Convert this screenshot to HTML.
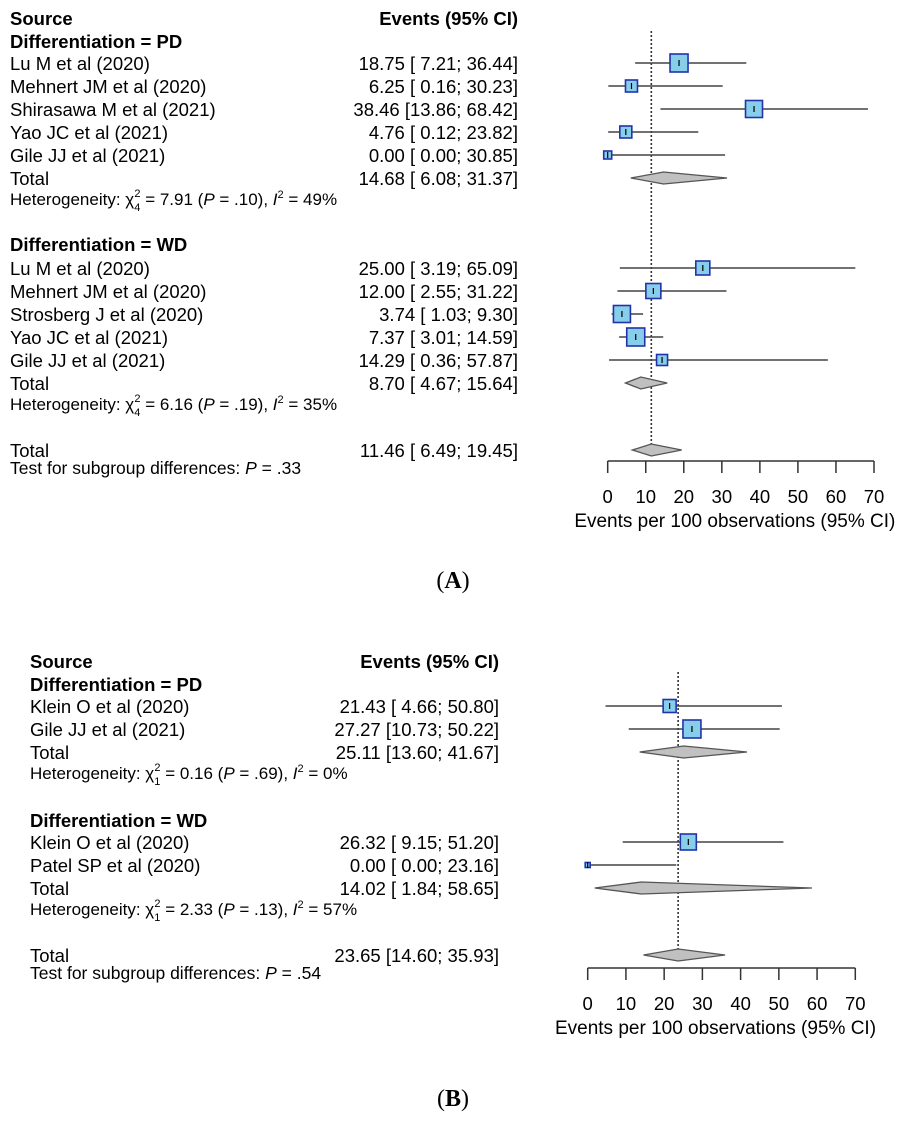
<!DOCTYPE html>
<html><head><meta charset="utf-8"><style>
body{margin:0;background:#fff;}
svg{display:block;font-family:"Liberation Sans",Arial,sans-serif;}
</style></head><body>
<svg id="fig" width="906" height="1123" viewBox="0 0 906 1123" xmlns="http://www.w3.org/2000/svg"></svg>
<script>
// Panel A data
const aLabels=["Lu M et al (2020)","Mehnert JM et al (2020)","Shirasawa M et al  (2021)","Yao JC et al (2021)","Gile JJ et al (2021)","Lu M et al (2020)","Mehnert JM et al (2020)","Strosberg J et al (2020)","Yao JC et al (2021)","Gile JJ et al (2021)"];
const aEst=[18.75,6.25,38.46,4.76,0.00,25.00,12.00,3.74,7.37,14.29];
const aLo=[7.21,0.16,13.86,0.12,0.00,3.19,2.55,1.03,3.01,0.36];
const aHi=[36.44,30.23,68.42,23.82,30.85,65.09,31.22,9.30,14.59,57.87];
const aSize=[18,12,17,12,8,14,15,17,18,11];
const aTotEst=[14.68,8.70,11.46];
const aTotLo=[6.08,4.67,6.49];
const aTotHi=[31.37,15.64,19.45];
// Panel B data
const bLabels=["Klein O et al  (2020)","Gile JJ et al (2021)","Klein O et al  (2020)","Patel SP et al (2020)"];
const bEst=[21.43,27.27,26.32,0.00];
const bLo=[4.66,10.73,9.15,0.00];
const bHi=[50.80,50.22,51.20,23.16];
const bSize=[13,18,16,5];
const bTotEst=[25.11,14.02,23.65];
const bTotLo=[13.60,1.84,14.60];
const bTotHi=[41.67,58.65,35.93];
const ticks=[0,10,20,30,40,50,60,70];

const NS="http://www.w3.org/2000/svg";
const svg=document.getElementById('fig');
const FS=18.5;
function mk(tag,attrs,parent){const e=document.createElementNS(NS,tag);for(const k in attrs)e.setAttribute(k,attrs[k]);(parent||svg).appendChild(e);return e;}
function txt(x,y,s,opts,parent){const t=mk('text',Object.assign({x:x,y:y,'font-size':FS,fill:'#000'},opts||{}),parent);t.innerHTML=s;return t;}
function fmt(v){return v.toFixed(2);}
function ci(e,l,h){const pad=v=>v<10?'&#160;'+fmt(v):fmt(v);return fmt(e)+' ['+pad(l)+'; '+fmt(h)+']';}

function panel(o){
  const g=mk('g',{});
  
  
  const X=v=>o.x0+v*(o.x1-o.x0)/70;
  const s=txt(o.lx,o.hy,'Source',{'font-weight':'bold'},g);
  
  const eh=txt(o.rx,o.hy,'Events (95% CI)',{'font-weight':'bold','text-anchor':'end'},g);
  
  const rl=mk('line',{x1:X(o.totEst[2]),x2:X(o.totEst[2]),y1:o.refTop,y2:o.totY+6,stroke:'#333','stroke-width':1.6,'stroke-dasharray':'2,2'},g);
  
  let idx=0;
  o.groups.forEach((grp,gi)=>{
    const gh=txt(o.lx,grp.hy,'Differentiation = '+grp.name,{'font-weight':'bold'},g);
    
    for(let k=0;k<grp.n;k++){
      const i=idx+k, y=grp.y0+k*o.dy;
      const lt=txt(o.lx,y+7,o.labels[i],{},g);
      
      const vt=txt(o.rx,y+7,ci(o.est[i],o.lo[i],o.hi[i]),{'text-anchor':'end'},g);
      
      const ln=mk('line',{x1:X(o.lo[i]),x2:X(o.hi[i]),y1:y,y2:y,stroke:'#444','stroke-width':1.4},g);
      
      const sz=o.size[i];
      const sq=mk('rect',{x:X(o.est[i])-sz/2,y:y-sz/2,width:sz,height:sz,fill:'#87ceeb',stroke:'#2233aa','stroke-width':1.6},g);
      
      const tk=mk('line',{x1:X(o.est[i]),x2:X(o.est[i]),y1:y-3,y2:y+3,stroke:'#000','stroke-width':1.2},g);
      
    }
    idx+=grp.n;
    const ty=grp.y0+grp.n*o.dy;
    const tt=txt(o.lx,ty+7,'Total',{},g);
    
    const tv=txt(o.rx,ty+7,ci(o.totEst[gi],o.totLo[gi],o.totHi[gi]),{'text-anchor':'end'},g);
    
    const dm=mk('polygon',{points:`${X(o.totLo[gi])},${ty} ${X(o.totEst[gi])},${ty-6} ${X(o.totHi[gi])},${ty} ${X(o.totEst[gi])},${ty+6}`,fill:'#c0c0c0',stroke:'#555','stroke-width':1.3},g);
    
    const ht=txt(o.lx,ty+27,grp.het,{'font-size':17},g);
    
  });
  const oy=o.totY;
  const ot=txt(o.lx,oy+7,'Total',{},g);
  
  const ov=txt(o.rx,oy+7,ci(o.totEst[2],o.totLo[2],o.totHi[2]),{'text-anchor':'end'},g);
  
  const od=mk('polygon',{points:`${X(o.totLo[2])},${oy} ${X(o.totEst[2])},${oy-6} ${X(o.totHi[2])},${oy} ${X(o.totEst[2])},${oy+6}`,fill:'#c0c0c0',stroke:'#555','stroke-width':1.3},g);
  
  const sg=txt(o.lx,oy+24,'Test for subgroup differences:  <tspan font-style="italic">P</tspan> = '+o.pval,{'font-size':17.5},g);
  
  const ax=mk('line',{x1:X(0),x2:X(70),y1:o.axisY,y2:o.axisY,stroke:'#333','stroke-width':1.5},g);
  
  ticks.forEach(t=>{
    const tl=mk('line',{x1:X(t),x2:X(t),y1:o.axisY,y2:o.axisY+12,stroke:'#333','stroke-width':1.5},g);
    
    const lb=txt(X(t),o.axisY+42,String(t),{'text-anchor':'middle','font-size':18.5},g);
    
  });
  const at=txt((X(0)+X(70))/2-6,o.axisY+66,'Events per 100 observations (95% CI)',{'text-anchor':'middle','font-size':19},g);
  
  const pl=txt(o.plx,o.ply,'(<tspan font-weight="bold">'+o.letter+'</tspan>)',{'text-anchor':'middle','font-size':24,'font-family':'Liberation Serif, serif'},g);
  
}

function het(df,chi,p,i2){return 'Heterogeneity: &#967;<tspan dy="6" font-size="11">'+df+'</tspan><tspan dy="-14" dx="-6" font-size="11">2</tspan><tspan dy="8"> = '+chi+' (</tspan><tspan font-style="italic">P</tspan> = '+p+'), <tspan font-style="italic">I</tspan><tspan dy="-7" font-size="11">2</tspan><tspan dy="7"> = '+i2+'</tspan>';}

panel({name:'panel-a',x0:607.7,x1:874,lx:10,rx:518,hy:25,dy:23,refTop:31,axisY:461,
  labels:aLabels,est:aEst,lo:aLo,hi:aHi,size:aSize,totEst:aTotEst,totLo:aTotLo,totHi:aTotHi,
  groups:[{name:'PD',hy:48,y0:63,n:5,het:het(4,'7.91','.10','49%')},
          {name:'WD',hy:251,y0:268,n:5,het:het(4,'6.16','.19','35%')}],
  totY:450,pval:'.33',plx:453,ply:588,letter:'A'});

panel({name:'panel-b',x0:587.7,x1:855.3,lx:30,rx:499,hy:668,dy:23,refTop:672,axisY:968,
  labels:bLabels,est:bEst,lo:bLo,hi:bHi,size:bSize,totEst:bTotEst,totLo:bTotLo,totHi:bTotHi,
  groups:[{name:'PD',hy:691,y0:706,n:2,het:het(1,'0.16','.69','0%')},
          {name:'WD',hy:827,y0:842,n:2,het:het(1,'2.33','.13','57%')}],
  totY:955,pval:'.54',plx:453,ply:1106,letter:'B'});
</script>
</body></html>
